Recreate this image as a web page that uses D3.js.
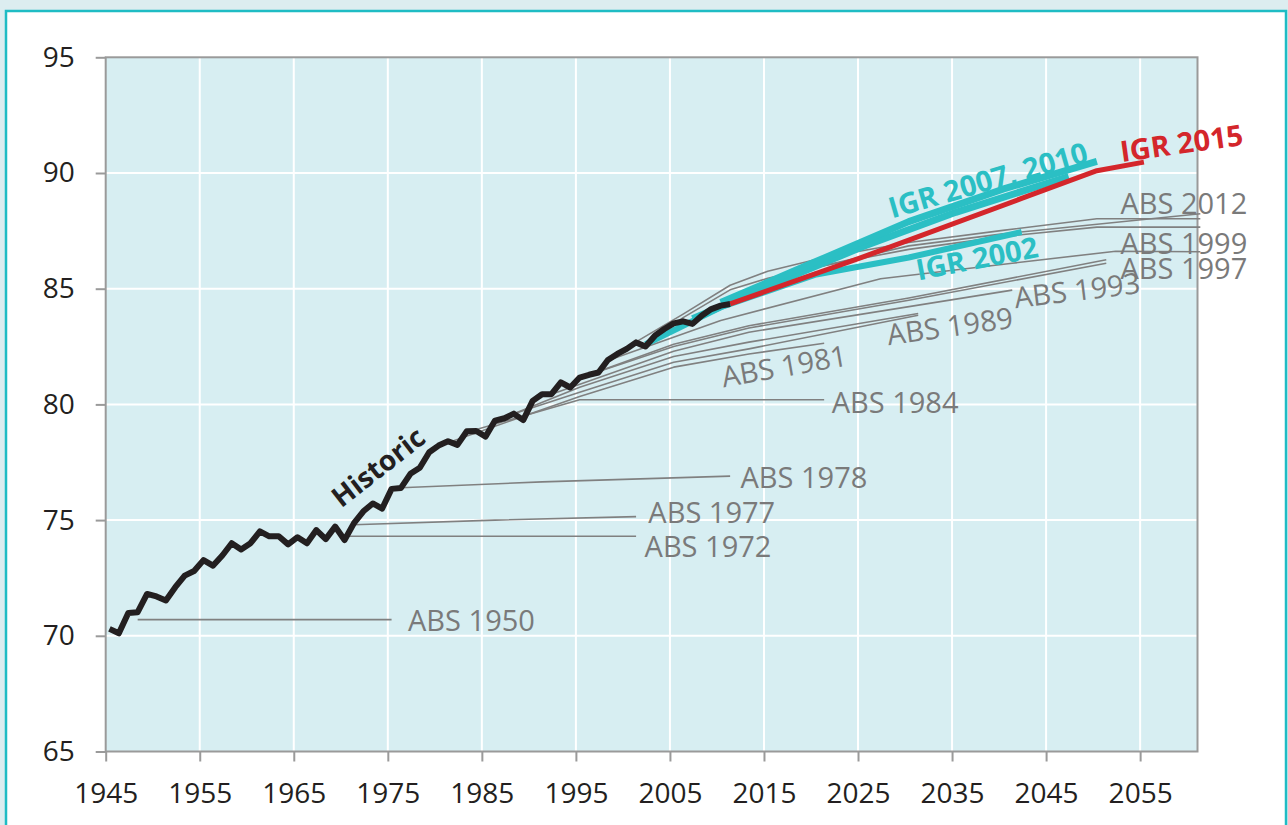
<!DOCTYPE html>
<html>
<head>
<meta charset="utf-8">
<script src="https://cdn.jsdelivr.net/npm/d3@7"></script>
<style>
    body { margin: 0; background: #dcedf0; }
    svg { display: block; font-family: 'Open Sans', sans-serif; }
    .tick text { font-size: 28px; fill: #231f20; font-family: 'Open Sans', sans-serif; }
    .tick line { stroke: #9a9a9a; stroke-width: 2; }
    .label { font-size: 29px; fill: #7a7a7a; }
    .bold { font-weight: bold; }
</style>
</head>
<body>
<script>

// Data

var historicStart = 1945;
var historic = [
    70.30, 70.11, 70.99, 71.02, 71.81, 71.70, 71.53, 72.10, 72.60, 72.80,
    73.27, 73.03, 73.47, 74.00, 73.73, 74.00, 74.51, 74.30, 74.30, 73.95,
    74.26, 74.00, 74.57, 74.18, 74.72, 74.14, 74.87, 75.38, 75.72, 75.50,
    76.35, 76.39, 77.00, 77.26, 77.93, 78.22, 78.41, 78.25, 78.84, 78.85,
    78.61, 79.30, 79.40, 79.60, 79.32, 80.15, 80.44, 80.44, 80.95, 80.73,
    81.16, 81.28, 81.38, 81.92, 82.18, 82.40, 82.68, 82.50, 82.97, 83.26,
    83.50, 83.59, 83.48, 83.84, 84.12, 84.27, 84.34
];

// ABS projections: [year, life expectancy]
var abs1950 = [[1948, 70.7], [1975, 70.7]];
var abs1972 = [[1970, 74.3], [2001, 74.3]];
var abs1977 = [[1971, 74.8], [1986, 75.0], [2001, 75.15]];
var abs1978 = [[1976, 76.4], [1991, 76.65], [2011, 76.9]];
var abs1981 = [[1980, 78.2], [1995, 80.34], [2005, 81.61], [2013, 82.18], [2021, 82.64]];
var abs1984 = [[1983, 78.8], [1995, 80.2], [2021, 80.2]];
var abs1989a = [[1988, 79.6], [1995, 80.53], [2005, 81.82], [2013, 82.4], [2031, 83.85]];
var abs1989b = [[1988, 79.6], [1995, 80.74], [2005, 82.07], [2013, 82.69], [2031, 83.93]];
var abs1993 = [[1992, 80.44], [2005, 82.3], [2013, 83.12], [2041, 84.94]];
var abs1997a = [[1996, 81.28], [2005, 82.6], [2013, 83.4], [2030, 84.6], [2051, 86.25]];
var abs1997b = [[1996, 81.28], [2005, 82.5], [2013, 83.3], [2030, 84.5], [2051, 86.1]];
var abs1999 = [[1998, 81.9], [2010, 83.63], [2027, 85.43], [2041, 86.1], [2052, 86.62], [2061, 86.6]];
var absOther1 = [[2001, 82.7], [2006, 83.9], [2011, 85.15], [2015, 85.75], [2021, 86.35],
    [2030, 87.0], [2040, 87.52], [2050, 88.02], [2061, 88.02]];
var absOther2 = [[2002, 82.6], [2006, 83.75], [2011, 84.95], [2015, 85.45], [2021, 86.0],
    [2030, 86.7], [2040, 87.25], [2050, 87.66], [2061, 87.66]];
var abs2012 = [[2011, 84.34], [2020, 85.9], [2030, 86.85], [2040, 87.37], [2061, 88.24]];

// IGR projections
var igr2002 = [[2002, 82.6], [2010, 84.2], [2020, 85.6], [2030, 86.35], [2042, 87.45]];
var igr2007 = [[2007, 83.7], [2015, 85.1], [2025, 86.8], [2035, 88.3], [2047, 89.85]];
var igr2010 = [[2010, 84.4], [2020, 86.15], [2030, 87.9], [2040, 89.3], [2050, 90.5]];
var igr2015 = [[2011, 84.34], [2025, 86.35], [2042, 88.9], [2050, 90.1], [2055, 90.47]];

var xTicks = [1945, 1955, 1965, 1975, 1985, 1995, 2005, 2015, 2025, 2035, 2045, 2055];
var yTicks = [65, 70, 75, 80, 85, 90, 95];

var grayLines = [abs1950, abs1972, abs1977, abs1978, abs1981, abs1984, abs1989a, abs1989b,
    abs1993, abs1997a, abs1997b, abs1999, absOther1, absOther2, abs2012];


// ===========================================================================
// Chart

var W = 1288, H = 825;
var plotLeft = 105.7, plotRight = 1197.5, plotTop = 57.3, plotBottom = 751.5;
var offset = 0.4; // data points sit a bit after the year tick

var svg = d3.select('body').append('svg')
    .attr('width', W)
    .attr('height', H);

// Outer frame
svg.append('rect')
    .attr('x', 0).attr('y', 0).attr('width', W).attr('height', H)
    .attr('fill', '#dcedf0');
svg.append('rect')
    .attr('x', 6).attr('y', 11).attr('width', W - 8).attr('height', H + 20)
    .attr('fill', '#fff')
    .attr('stroke', '#1fbcc4')
    .attr('stroke-width', 2.5);

var x = d3.scaleLinear().domain([1945, 2061.1]).range([plotLeft, plotRight]);
var y = d3.scaleLinear().domain([65, 95]).range([plotBottom, plotTop]);

// Plot background
svg.append('rect')
    .attr('x', plotLeft).attr('y', plotTop)
    .attr('width', plotRight - plotLeft).attr('height', plotBottom - plotTop)
    .attr('fill', '#d7eef2');

// White grid
svg.append('g').selectAll('line').data(xTicks.slice(1)).enter()
    .append('line')
    .attr('x1', function (d) { return x(d); })
    .attr('x2', function (d) { return x(d); })
    .attr('y1', plotTop).attr('y2', plotBottom)
    .attr('stroke', '#fff').attr('stroke-width', 2);
svg.append('g').selectAll('line').data(yTicks.slice(1, -1)).enter()
    .append('line')
    .attr('y1', function (d) { return y(d); })
    .attr('y2', function (d) { return y(d); })
    .attr('x1', plotLeft).attr('x2', plotRight)
    .attr('stroke', '#fff').attr('stroke-width', 2);

// Plot border
svg.append('rect')
    .attr('x', plotLeft).attr('y', plotTop)
    .attr('width', plotRight - plotLeft).attr('height', plotBottom - plotTop)
    .attr('fill', 'none')
    .attr('stroke', '#9a9a9a')
    .attr('stroke-width', 2);

// Axes
var xAxis = svg.append('g')
    .attr('transform', 'translate(0,' + plotBottom + ')')
    .call(d3.axisBottom(x).tickValues(xTicks).tickFormat(d3.format('d'))
        .tickSize(10).tickPadding(22));
var yAxis = svg.append('g')
    .attr('transform', 'translate(' + plotLeft + ',0)')
    .call(d3.axisLeft(y).tickValues(yTicks).tickSize(10).tickPadding(21));
xAxis.select('.domain').remove();
yAxis.select('.domain').remove();
xAxis.attr('font-family', null).attr('font-size', null);
yAxis.attr('font-family', null).attr('font-size', null);

// Lines
var line = d3.line()
    .x(function (d) { return x(d[0] + offset); })
    .y(function (d) { return y(d[1]); });

function drawLines(data, color, width) {
    svg.append('g').selectAll('path').data(data).enter()
        .append('path')
        .attr('d', line)
        .attr('fill', 'none')
        .attr('stroke', color)
        .attr('stroke-width', width)
        .attr('stroke-linejoin', 'round');
}

drawLines(grayLines, '#808080', 1.6);
drawLines([igr2002], '#2bbfc4', 6);
drawLines([igr2007, igr2010], '#2bbfc4', 7);
drawLines([igr2015], '#d4262b', 5);

var historicPts = historic.map(function (v, i) { return [historicStart + i, v]; });
drawLines([historicPts], '#231f20', 6);

// Labels: anchored in data units, rotated in degrees
var labels = [
    { text: 'ABS 1950', year: 1977.15, value: 70.68, angle: 0 },
    { text: 'ABS 1972', year: 2002.3, value: 73.84, angle: 0 },
    { text: 'ABS 1977', year: 2002.7, value: 75.31, angle: 0 },
    { text: 'ABS 1978', year: 2012.5, value: 76.82, angle: 0 },
    { text: 'ABS 1984', year: 2022.2, value: 80.1, angle: 0 },
    { text: 'ABS 1981', year: 2010.5, value: 81.18, angle: -10 },
    { text: 'ABS 1989', year: 2028.1, value: 83.0, angle: -8 },
    { text: 'ABS 1993', year: 2041.6, value: 84.6, angle: -7 },
    { text: 'ABS 1997', year: 2052.9, value: 85.89, angle: 0 },
    { text: 'ABS 1999', year: 2052.9, value: 86.97, angle: 0 },
    { text: 'ABS 2012', year: 2052.9, value: 88.7, angle: 0 },
    { text: 'IGR 2015', year: 2052.9, value: 90.92, angle: -8, color: '#d4262b' },
    { text: 'IGR 2007, 2010', year: 2028.3, value: 88.47, angle: -16, color: '#2bbfc4' },
    { text: 'IGR 2002', year: 2031.2, value: 85.8, angle: -11, color: '#2bbfc4' },
    { text: 'Historic', year: 1969.4, value: 75.85, angle: -38, color: '#231f20', size: 28 }
];

svg.append('g').selectAll('text').data(labels).enter()
    .append('text')
    .attr('class', function (d) { return d.color ? 'label bold' : 'label'; })
    .attr('transform', function (d) {
        return 'translate(' + x(d.year) + ',' + y(d.value) + ') rotate(' + d.angle + ')';
    })
    .attr('dy', '0.36em')
    .style('fill', function (d) { return d.color || null; })
    .style('font-size', function (d) { return d.size ? d.size + 'px' : null; })
    .text(function (d) { return d.text; });

</script>
</body>
</html>
